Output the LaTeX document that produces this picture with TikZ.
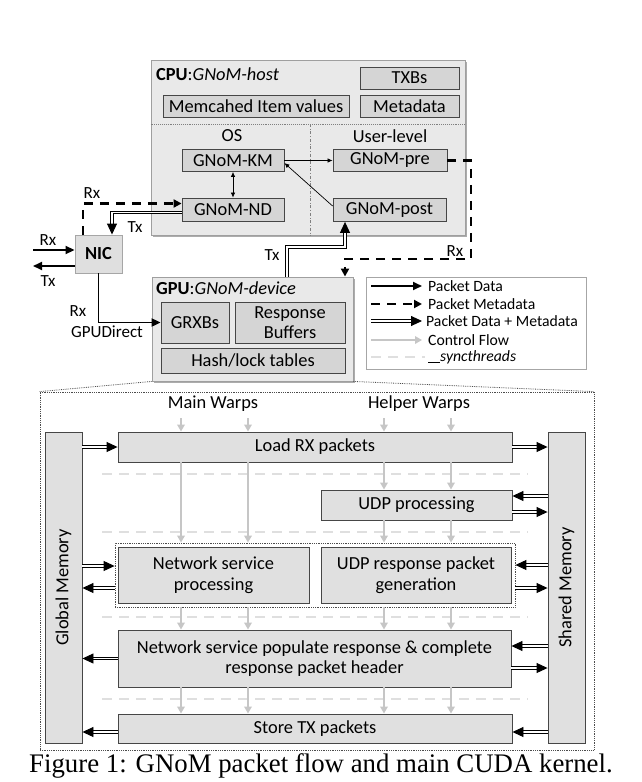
\documentclass[tikz,border=0pt]{standalone}
\usepackage{fontspec}
\setmainfont{Carlito}
\newfontfamily\capfont{Liberation Serif}
\usetikzlibrary{arrows.meta,calc,shadows}
\newcommand\fsmain{\fontsize{18.4pt}{20.5pt}\selectfont}
\newcommand\fsleg{\fontsize{15.7pt}{17pt}\selectfont}
\newcommand\fslab{\fontsize{17pt}{19pt}\selectfont}
\begin{document}
\begin{tikzpicture}[x=1pt,y=-1pt,
  outerbox/.style={draw=gray!75, fill=gray!17, line width=0.9pt,
    drop shadow={shadow xshift=1.6pt,shadow yshift=-1.6pt,fill=gray!65,opacity=1}},
  ibox/.style={draw=gray!55!black, fill=gray!33, line width=0.8pt, inner sep=0pt,
    align=center, font=\fsmain,
    drop shadow={shadow xshift=0.9pt,shadow yshift=-0.9pt,fill=gray!55,opacity=1}},
  kbox/.style={draw=gray!55!black, fill=gray!24, line width=0.9pt, inner sep=0pt,
    align=center, font=\fsmain},
  txt/.style={inner sep=0pt, font=\fsmain},
  lab/.style={inner sep=0pt, font=\fslab},
  legt/.style={inner sep=0pt, anchor=west, font=\fsleg},
  pdata/.style={line width=1.9pt, -{Triangle[length=9pt,width=8pt]}},
  pmeta/.style={line width=2.4pt, dash pattern=on 9pt off 7pt, -{Triangle[length=8pt,width=8pt]}},
  dbl/.style={double=white, double distance=1.5pt, line width=0.9pt, -{Triangle[length=11pt,width=10pt]}},
  ctrl/.style={draw=gray!45, line width=1.8pt, -{Triangle[length=7pt,width=7.5pt]}},
  sync/.style={draw=gray!25, line width=1.6pt, dash pattern=on 10pt off 7pt},
  thinarr/.style={line width=0.7pt, -{Latex[length=5pt,width=4.5pt]}},
  zoomln/.style={draw=gray!60!black, densely dotted, line width=0.8pt}
]
\useasboundingbox (0,0) rectangle (642,782);

% ---------------- CPU ----------------
\node[outerbox, minimum width=314pt, minimum height=175pt] (cpu) at (308,147.5) {};
\node[txt, anchor=west] (cput) at (156,74) {\textbf{CPU}:\textit{GNoM-host}};
\node[ibox, minimum width=99pt, minimum height=22pt] (txb) at (409.5,78) {TXBs};
\node[ibox, minimum width=99pt, minimum height=22pt] (meta) at (409.5,106) {Metadata};
\node[ibox, minimum width=186pt, minimum height=22pt] (mem) at (256,106) {Memcahed Item values};
\coordinate (dl) at (0,124);
\coordinate (dv) at (310,0);
\draw[gray, densely dotted, line width=0.9pt] (cpu.west |- dl) -- (cpu.east |- dl);
\draw[gray, dash dot, line width=0.8pt] (dv |- dl) -- (dv |- cpu.south);
\node[txt] (os) at (232,136) {OS};
\node[txt] (ul) at (390,136) {User-level};
\node[ibox, minimum width=102pt, minimum height=22pt] (km) at (233,160.5) {GNoM-KM};
\node[ibox, minimum width=114pt, minimum height=22pt] (pre) at (390,160.5) {GNoM-pre};
\node[ibox, minimum width=102pt, minimum height=23pt] (nd) at (233,209.5) {GNoM-ND};
\node[ibox, minimum width=113pt, minimum height=23pt] (post) at (389.5,210) {GNoM-post};
\draw[thinarr, {Latex[length=5pt,width=4.5pt]}-{Latex[length=5pt,width=4.5pt]}] (km.south) -- (nd.north);
\draw[thinarr] (km.east) -- (pre.west);
\draw[thinarr] ([yshift=4pt]post.west) -- ([yshift=-2.5pt]km.east);

% ---------------- NIC ----------------
\node[draw=gray!70, fill=gray!25, line width=0.9pt, minimum width=47pt, minimum height=38pt,
  inner sep=0pt, font=\fsmain\bfseries] (nic) at (98.5,254) {NIC};
\coordinate (rxin) at (33,250);
\coordinate (txout) at (33,266);
\draw[pdata] (rxin) -- (nic.west |- rxin);
\draw[pdata] (nic.west |- txout) -- (txout);
\node[lab] (lrx1) at (48,240) {Rx};
\node[lab] (ltx1) at (48,281) {Tx};
\coordinate (rx1) at (83,0);
\draw[pmeta] (nic.north -| rx1) |- ([yshift=6pt]nd.west);
\node[lab] (lrx2) at (92,193) {Rx};
\coordinate (tx1) at (112,0);
\draw[dbl] ([yshift=-3pt]nd.west) -| (nic.north -| tx1);
\node[lab] (ltx2) at (135,227) {Tx};

% ---------------- GPU ----------------
\node[outerbox, minimum width=201pt, minimum height=104pt] (gpu) at (252.5,329) {};
\node[txt, anchor=west] (gput) at (156,288) {\textbf{GPU}:\textit{GNoM-device}};
\node[ibox, minimum width=68pt, minimum height=41pt] (grx) at (195,322.5) {GRXBs};
\node[ibox, minimum width=110pt, minimum height=41pt] (rb) at (290,322.5) {Response\\Buffers};
\node[ibox, minimum width=184pt, minimum height=25pt] (hl) at (253,360.5) {Hash/lock tables};
\draw[pdata] (nic.south) |- (grx.west);
\node[lab] (lrx3) at (78,311) {Rx};
\node[lab] (lgd) at (107,332) {GPUDirect};
\coordinate (txa) at (287,0);
\coordinate (txb) at (345,247);
\draw[dbl] (gpu.north -| txa) |- (txb) -- (post.south -| txb);
\node[lab] (ltx3) at (272,255) {Tx};
\coordinate (m1) at (471,259);
\coordinate (m2) at (345,0);
\draw[pmeta] (pre.east) -| (m1) -| (gpu.north -| m2);
\node[lab] (lrx4) at (455,251) {Rx};

% ---------------- Legend ----------------
\node[draw=gray!70, fill=white, line width=0.9pt, minimum width=220pt, minimum height=92pt] (leg) at (476,323) {};
\coordinate (la) at (371,0);
\coordinate (lb) at (422,0);
\coordinate (r1) at (0,286);
\coordinate (r2) at (0,304);
\coordinate (r3) at (0,321);
\coordinate (r4) at (0,340);
\coordinate (r5) at (0,357);
\draw[pdata] (la |- r1) -- (lb |- r1);
\draw[pmeta] (la |- r2) -- (lb |- r2);
\draw[dbl] (la |- r3) -- (lb |- r3);
\draw[ctrl] (la |- r4) -- (lb |- r4);
\draw[sync] (la |- r5) -- ([xshift=3pt]lb |- r5);
\node[legt] (lt1) at (428,286) {Packet Data};
\node[legt] (lt2) at (428,304) {Packet Metadata};
\node[legt] (lt3) at (426,321) {Packet Data + Metadata};
\node[legt] (lt4) at (428,340) {Control Flow};
\node[legt] (lt5) at (428,357) {\rule[-1.6pt]{12pt}{0.9pt}\textit{syncthreads}};

% ---------------- Kernel ----------------
\node[zoomln, minimum width=554pt, minimum height=358pt] (big) at (317,571) {};
\draw[zoomln] (gpu.south west) -- (big.north west);
\draw[zoomln] (gpu.south east) -- (big.north east);
\node[txt] (mw) at (213,404) {Main Warps};
\node[txt] (hw) at (419,404) {Helper Warps};

\node[kbox, minimum width=37pt, minimum height=311pt] (gm) at (63.5,587.5) {};
\node[txt, rotate=90] (gmt) at (gm.center) {Global Memory};
\node[kbox, minimum width=37pt, minimum height=311pt] (sm) at (566.5,587.5) {};
\node[txt, rotate=90] (smt) at (sm.center) {Shared Memory};

\coordinate (sx1) at (102,0);
\coordinate (sx2) at (528,0);
\foreach \yy in {474,532,617,699}{
  \draw[sync] (sx1 |- 0,\yy) -- (sx2 |- 0,\yy);
}

\node[kbox, minimum width=394pt, minimum height=30pt] (lr) at (315,447) {Load RX packets};
\node[kbox, minimum width=191pt, minimum height=30pt] (udp) at (416.5,505) {UDP processing};
\node[draw=gray!60!black, densely dotted, line width=0.8pt, minimum width=400pt, minimum height=64pt] (grp) at (315,575) {};
\node[kbox, minimum width=191pt, minimum height=56pt] (nsp) at (213.5,575) {Network service\\processing};
\node[kbox, minimum width=190pt, minimum height=56pt] (urp) at (416,575) {UDP response packet\\generation};
\node[kbox, minimum width=393pt, minimum height=57pt] (pop) at (314.5,658.5) {Network service populate response \& complete\\response packet header};
\node[kbox, minimum width=394pt, minimum height=29pt] (st) at (315,728.5) {Store TX packets};

% control flow
\coordinate (wt) at (0,418);
\coordinate (mw1) at (181,0);
\coordinate (mw2) at (248,0);
\coordinate (hw1) at (384,0);
\coordinate (hw2) at (451,0);
\foreach \cx in {mw1,mw2}{
  \draw[ctrl] (\cx |- wt) -- (\cx |- lr.north);
  \draw[ctrl] (\cx |- lr.south) -- (\cx |- grp.north);
  \draw[ctrl] (\cx |- grp.south) -- (\cx |- pop.north);
  \draw[ctrl] (\cx |- pop.south) -- (\cx |- st.north);
}
\foreach \cx in {hw1,hw2}{
  \draw[ctrl] (\cx |- wt) -- (\cx |- lr.north);
  \draw[ctrl] (\cx |- lr.south) -- (\cx |- udp.north);
  \draw[ctrl] (\cx |- udp.south) -- (\cx |- grp.north);
  \draw[ctrl] (\cx |- grp.south) -- (\cx |- pop.north);
  \draw[ctrl] (\cx |- pop.south) -- (\cx |- st.north);
}

% memory transfers, left
\draw[dbl] (gm.east |- lr.west) -- (lr.west);
\draw[dbl] (gm.east |- 0,566) -- (grp.west |- 0,566);
\draw[dbl] (grp.west |- 0,588) -- (gm.east |- 0,588);
\draw[dbl] (pop.west) -- (gm.east |- pop.west);
\draw[dbl] (st.west |- 0,732) -- (gm.east |- 0,732);
% memory transfers, right
\draw[dbl] (lr.east) -- (sm.west |- lr.east);
\draw[dbl] (sm.west |- 0,496) -- (udp.east |- 0,496);
\draw[dbl] (udp.east |- 0,512) -- (sm.west |- 0,512);
\draw[dbl] (sm.west |- 0,565) -- (grp.east |- 0,565);
\draw[dbl] (grp.east |- 0,588) -- (sm.west |- 0,588);
\draw[dbl] (sm.west |- 0,646) -- (pop.east |- 0,646);
\draw[dbl] (pop.east |- 0,668) -- (sm.west |- 0,668);
\draw[dbl] (sm.west |- 0,732) -- (st.east |- 0,732);

% caption
\node[inner sep=0pt, font=\capfont\fontsize{26.8pt}{30pt}\selectfont] (cap) at (321,766)
  {Figure 1: GNoM packet flow and main CUDA kernel.};
\end{tikzpicture}
\end{document}
